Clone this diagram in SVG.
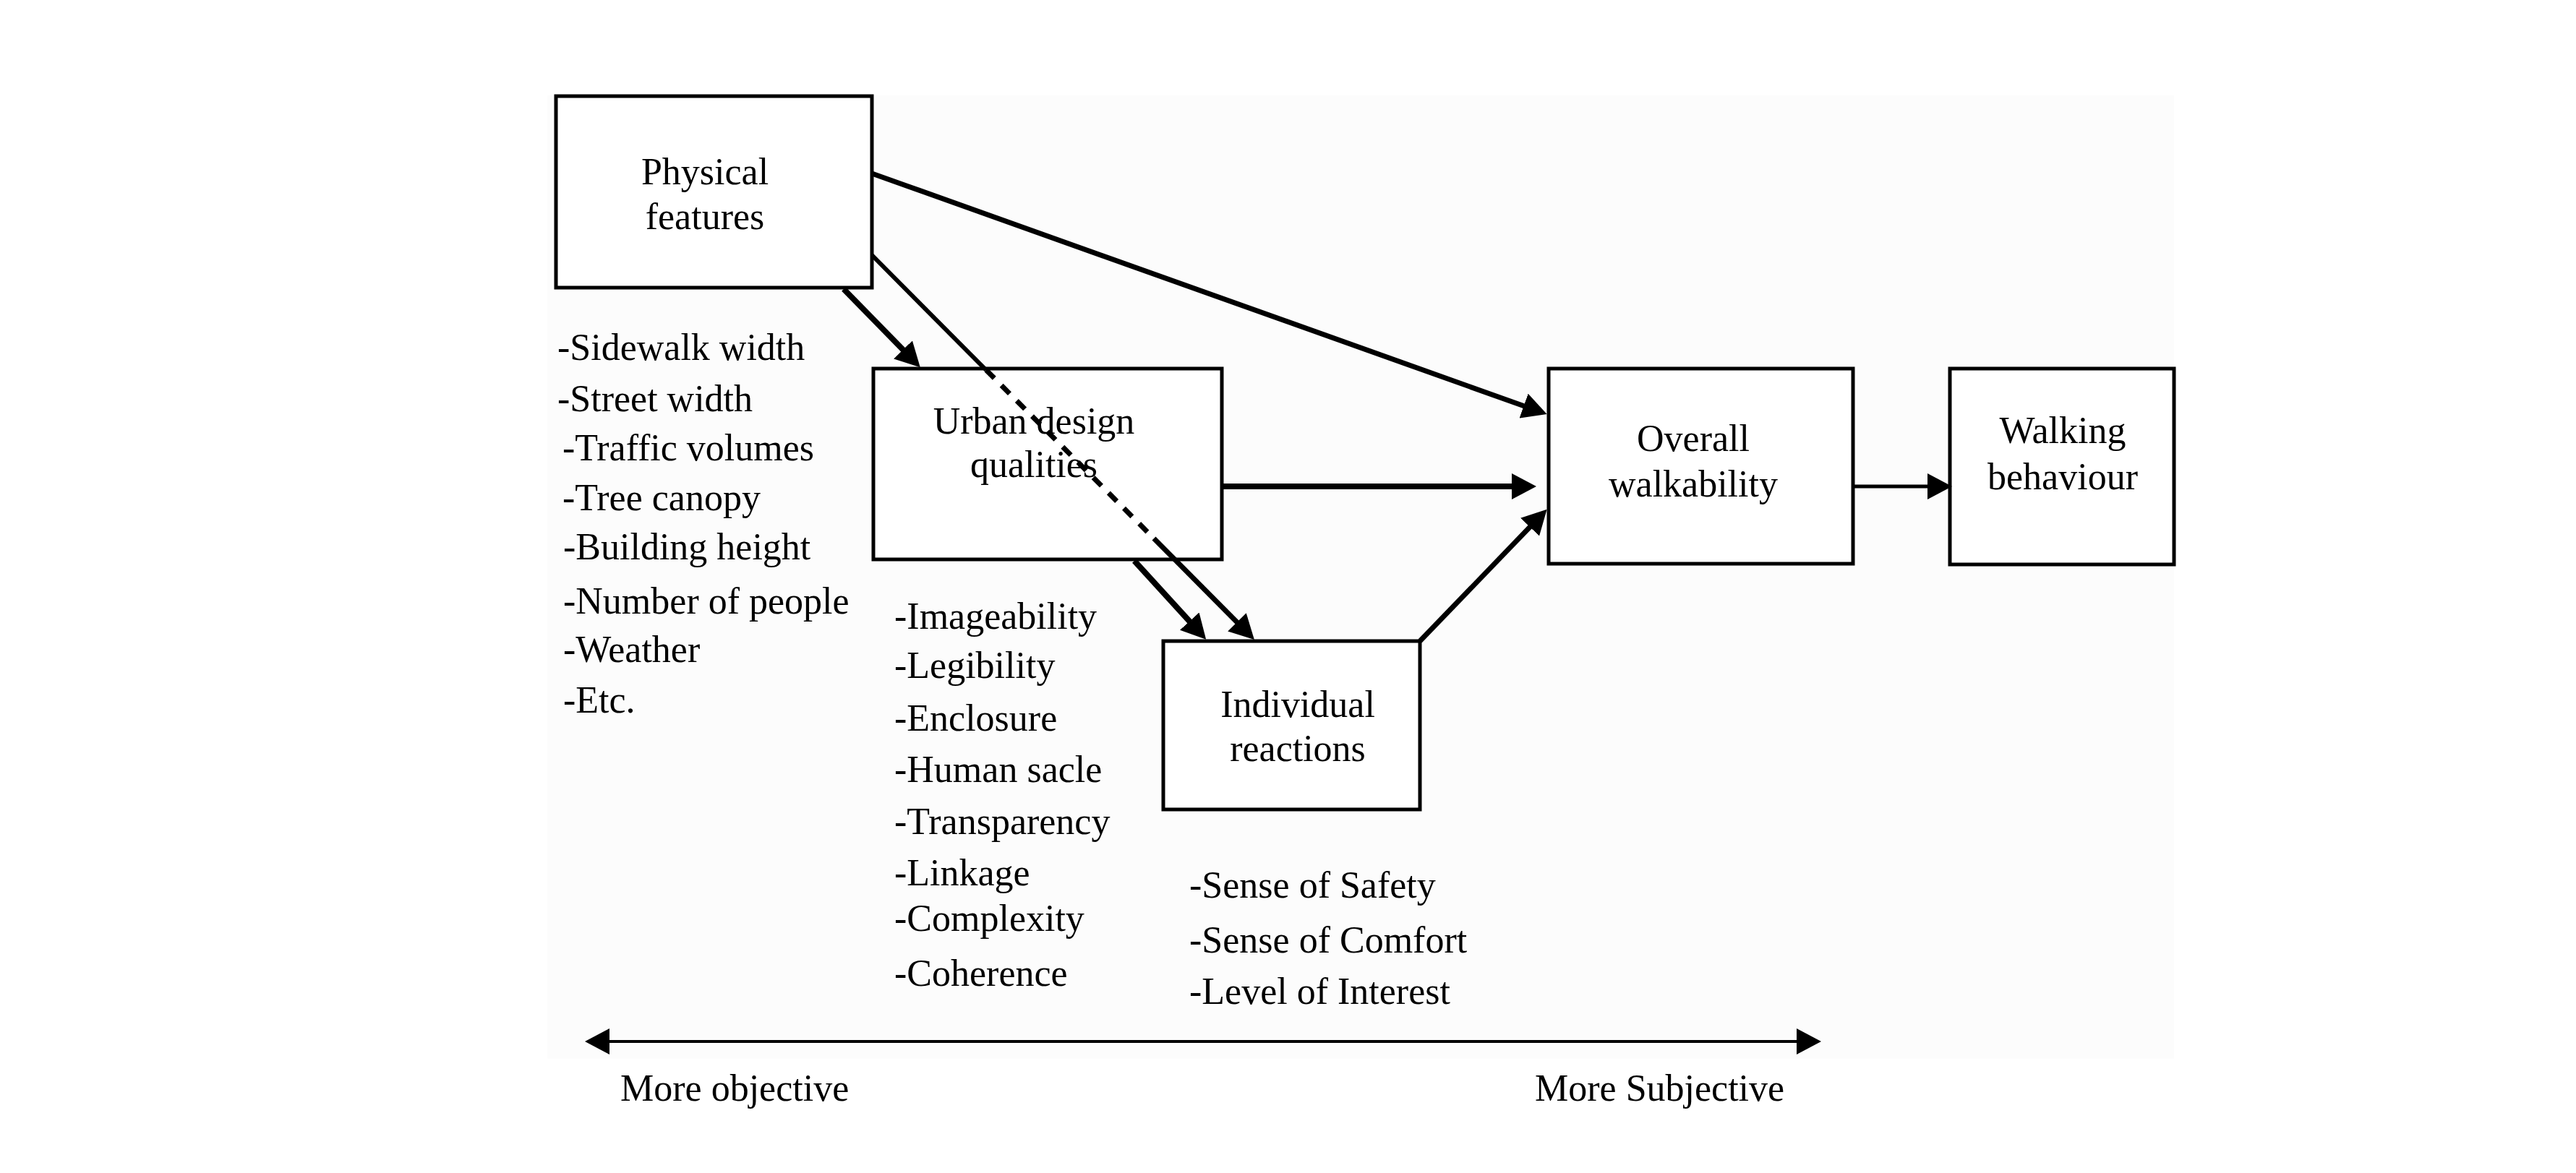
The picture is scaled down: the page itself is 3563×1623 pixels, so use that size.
<svg xmlns="http://www.w3.org/2000/svg" width="3563" height="1623" viewBox="0 0 3563 1623">
<defs>
<style>
text{font-family:"Liberation Serif","Times New Roman",serif;font-size:52px;fill:#000}
.c{text-anchor:middle}
.box{fill:#ffffff;stroke:#000;stroke-width:5}
.ln{stroke:#000;fill:none;stroke-linecap:butt}
</style>
<marker id="ah" markerUnits="userSpaceOnUse" viewBox="0 0 34 36" refX="10" refY="18" markerWidth="34" markerHeight="36" orient="auto-start-reverse">
<path d="M0,0 L34,18 L0,36 z" fill="#000"/>
</marker>
</defs>
<rect x="0" y="0" width="3563" height="1623" fill="#ffffff"/>
<rect x="757" y="132" width="2250" height="1333" fill="#fcfcfc"/>

<g id="physical">
<rect class="box" x="769" y="133" width="437" height="265"/>
<text class="c" x="975" y="255">Physical</text>
<text class="c" x="975" y="317">features</text>
</g>
<g id="physical-list">
<text x="771" y="498">-Sidewalk width</text>
<text x="771" y="569">-Street width</text>
<text x="778" y="637">-Traffic volumes</text>
<text x="778" y="706">-Tree canopy</text>
<text x="779" y="774">-Building height</text>
<text x="779" y="849">-Number of people</text>
<text x="779" y="916">-Weather</text>
<text x="779" y="986">-Etc.</text>
</g>

<g id="urban">
<rect class="box" x="1208" y="510" width="482" height="264"/>
<text class="c" x="1430" y="600">Urban design</text>
<text class="c" x="1430" y="660">qualities</text>
</g>
<g id="urban-list">
<text x="1237" y="870">-Imageability</text>
<text x="1237" y="938">-Legibility</text>
<text x="1237" y="1011">-Enclosure</text>
<text x="1237" y="1082">-Human sacle</text>
<text x="1237" y="1154">-Transparency</text>
<text x="1237" y="1225">-Linkage</text>
<text x="1237" y="1288">-Complexity</text>
<text x="1237" y="1364">-Coherence</text>
</g>

<g id="individual">
<rect class="box" x="1609" y="887" width="355" height="233"/>
<text class="c" x="1795" y="992">Individual</text>
<text class="c" x="1795" y="1053">reactions</text>
</g>
<g id="individual-list">
<text x="1645" y="1242">-Sense of Safety</text>
<text x="1645" y="1318">-Sense of Comfort</text>
<text x="1645" y="1389">-Level of Interest</text>
</g>

<g id="overall">
<rect class="box" x="2142" y="510" width="421" height="270"/>
<text class="c" x="2342" y="624">Overall</text>
<text class="c" x="2342" y="687">walkability</text>
</g>

<g id="walking">
<rect class="box" x="2697" y="510" width="310" height="271"/>
<text class="c" x="2853" y="613">Walking</text>
<text class="c" x="2853" y="677">behaviour</text>
</g>

<g id="connectors">
<line class="ln" x1="1206" y1="240" x2="2117" y2="565" stroke-width="7" marker-end="url(#ah)"/>
<line class="ln" x1="1167" y1="400" x2="1256" y2="491" stroke-width="8" marker-end="url(#ah)"/>
<line class="ln" x1="1206" y1="353" x2="1364" y2="512" stroke-width="6"/>
<line class="ln" x1="1364" y1="512" x2="1596" y2="745" stroke-width="7" stroke-dasharray="16 14"/>
<line class="ln" x1="1596" y1="745" x2="1718" y2="868" stroke-width="7" marker-end="url(#ah)"/>
<line class="ln" x1="1569" y1="776" x2="1652" y2="867" stroke-width="8" marker-end="url(#ah)"/>
<line class="ln" x1="1690" y1="673" x2="2101" y2="673" stroke-width="8" marker-end="url(#ah)"/>
<line class="ln" x1="1964" y1="887" x2="2123" y2="722" stroke-width="7" marker-end="url(#ah)"/>
<line class="ln" x1="2563" y1="673" x2="2676" y2="673" stroke-width="5" marker-end="url(#ah)"/>
<line class="ln" x1="833" y1="1441" x2="2495" y2="1441" stroke-width="4" marker-start="url(#ah)" marker-end="url(#ah)"/>
</g>

<g id="axis-labels">
<text x="858" y="1523">More objective</text>
<text x="2123" y="1523">More Subjective</text>
</g>
</svg>
